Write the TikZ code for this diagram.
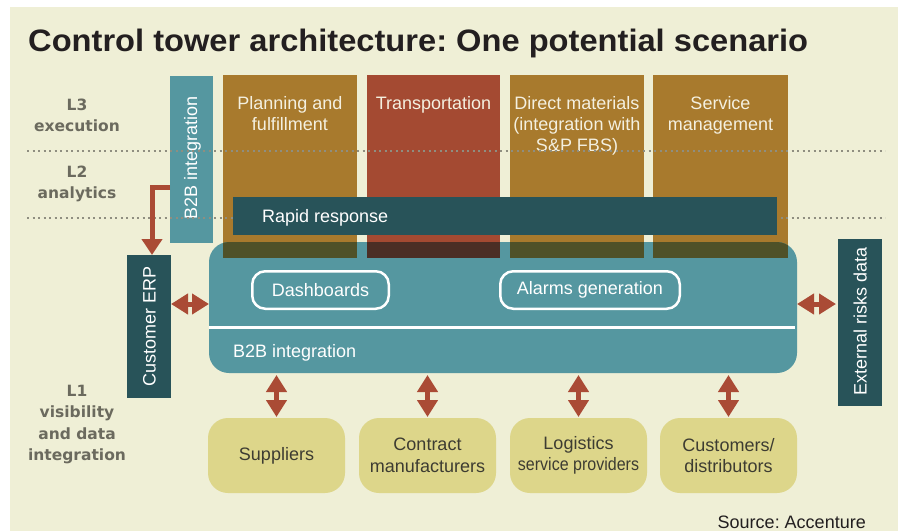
\documentclass[tikz,border=0pt]{standalone}
\usepackage{fontspec}
\setmainfont{Liberation Sans}
\newfontfamily\lvlfont{DejaVu Sans}
\usetikzlibrary{arrows.meta}
\frenchspacing
\definecolor{bgc}{HTML}{EFEFD6}
\definecolor{ochre}{HTML}{A87A2D}
\definecolor{rust}{HTML}{A44A32}
\definecolor{tealc}{HTML}{5597A0}
\definecolor{dteal}{HTML}{285359}
\definecolor{botc}{HTML}{DDD68A}
\definecolor{arrc}{HTML}{AA4B35}
\definecolor{ovo}{HTML}{4F5128}
\definecolor{ovr}{HTML}{4B2E25}
\definecolor{lvlc}{HTML}{6B6A5E}
\definecolor{dotc}{HTML}{8F8E80}
\definecolor{titc}{HTML}{231F20}
\definecolor{colt}{HTML}{F4F0E0}
\definecolor{bott}{HTML}{3D3C32}
\begin{document}
\frenchspacing
\begin{tikzpicture}[x=1pt,y=-1pt,
  box/.style={inner sep=0pt, outer sep=0pt, anchor=north west, draw=none},
  coltext/.style={text=colt, font=\fontsize{18}{21}\selectfont, align=center, inner sep=0pt, anchor=north},
  lvl/.style={text=lvlc, font=\lvlfont\bfseries\fontsize{15.5}{21.5}\selectfont, align=center, inner sep=0pt, anchor=north},
  wtext/.style={text=white, font=\fontsize{18}{21}\selectfont, inner sep=0pt},
  vtext/.style={wtext, rotate=90, anchor=base},
  pill/.style={draw=white, line width=2.5pt, rounded corners=13pt, minimum height=37.5pt, text=white, font=\fontsize{18}{21}\selectfont, inner sep=0pt},
  botbox/.style={fill=botc, rounded corners=20pt, minimum width=137pt, minimum height=75pt, inner sep=0pt, outer sep=0pt, align=center, text=bott, font=\fontsize{18}{21.5}\selectfont},
  dbl/.style={draw=arrc, line width=5pt, {Triangle[width=20pt,length=17pt]}-{Triangle[width=20pt,length=17pt]}},
  elbow/.style={draw=arrc, line width=5pt, line join=miter, -{Triangle[width=20pt,length=16pt]}},
  dotline/.style={draw=dotc, line width=1.8pt, dash pattern=on 2pt off 3.5pt}
]
\useasboundingbox (0,0) rectangle (898,531);
\fill[white] (0,0) rectangle (898,531);
\fill[bgc] (10,7) rectangle (898,531);

% title
\node[anchor=base west, inner sep=0pt, text=titc, font=\fontsize{31}{31}\selectfont\bfseries] (title) at (28,51)
  {\scalebox{1.053}[1]{Control tower architecture: One potential scenario}};

% level labels
\node[lvl] (l3) at (77,98.7) {L3\\execution};
\node[lvl] (l2) at (77,165.7) {L2\\analytics};
\node[lvl] (l1) at (77,384.7) {L1\\visibility\\and data\\integration};

% columns
\node[box, fill=ochre, minimum width=134pt, minimum height=183pt] (plan) at (223,75) {};
\node[box, fill=rust,  minimum width=133pt, minimum height=183pt] (trans) at (367,75) {};
\node[box, fill=ochre, minimum width=134pt, minimum height=183pt] (direct) at (510,75) {};
\node[box, fill=ochre, minimum width=135pt, minimum height=183pt] (serv) at (653,75) {};
\node[coltext] (plant) at (290,96.5) {Planning and\\fulfillment};
\node[coltext] (transt) at (433.5,96.5) {Transportation};
\node[coltext] (directt) at (577,96.5) {Direct materials\\(integration with\\S\&P FBS)};
\node[coltext] (servt) at (720.5,96.5) {Service\\management};

% B2B vertical
\node[box, fill=tealc, minimum width=43pt, minimum height=167pt] (b2bv) at (170,76) {};
\node[vtext] (b2bvt) at (197,158) {B2B integration};

% dotted lines
\draw[dotline] (27,151) -- (885,151);
\draw[dotline] (27,218) -- (885,218);

% rapid response
\node[box, fill=dteal, minimum width=544pt, minimum height=38pt] (rapid) at (233,197) {};
\node[wtext, anchor=base west] (rapidt) at (262,222.7) {Rapid response};

% core box
\node[box, fill=tealc, rounded corners=20pt, minimum width=588pt, minimum height=131pt] (core) at (209,242) {};
\begin{scope}
  \clip[rounded corners=20pt] (209,242) rectangle (797,373);
  \fill[ovo] (223,242) rectangle (357,258);
  \fill[ovr] (367,242) rectangle (500,258);
  \fill[ovo] (510,242) rectangle (644,258);
  \fill[ovo] (653,242) rectangle (788,258);
\end{scope}
\draw[white, line width=3pt] (core.west |- 0,327) -- ([xshift=-2pt]core.east |- 0,327);
\node[pill, minimum width=136.5pt] (dash) at (320.5,290) {Dashboards};
\node[pill, minimum width=179.5pt] (alarm) at (590,290) {Alarms generation};
\node[wtext, anchor=base west] (b2bt) at (233,357.3) {B2B integration};

% side boxes
\node[box, fill=dteal, minimum width=44pt, minimum height=143pt] (erp) at (127,255) {};
\node[vtext] (erpt) at (155.5,326.5) {Customer ERP};
\node[box, fill=dteal, minimum width=44pt, minimum height=167pt] (ext) at (838,239) {};
\node[vtext] (extt) at (866.5,321) {External risks data};

% bottom boxes
\node[botbox] (sup) at (276.5,455.5) {Suppliers};
\node[botbox] (con) at (427.5,455.5) {Contract\\manufacturers};
\node[botbox] (log) at (578.5,455.5) {Logistics\\\scalebox{0.89}[1]{service providers}};
\node[botbox] (cus) at (728.5,455.5) {Customers/\\distributors};

% connectors
\draw[elbow] (b2bv.west |- 0,187) -| (erp.north -| 152,0);
\draw[dbl] (erp.east |- 0,304) -- (core.west |- 0,304);
\draw[dbl] (core.east |- 0,304) -- ([xshift=-2pt]ext.west |- 0,304);
\foreach \n in {sup,con,log,cus}
  \draw[dbl, shorten <=2pt, shorten >=1pt] (core.south -| \n.north) -- (\n.north);

% source
\node[anchor=base east, inner sep=0pt, text=titc, font=\fontsize{18}{21}\selectfont] (src) at (866,528.3) {Source: Accenture};
\end{tikzpicture}
\end{document}
